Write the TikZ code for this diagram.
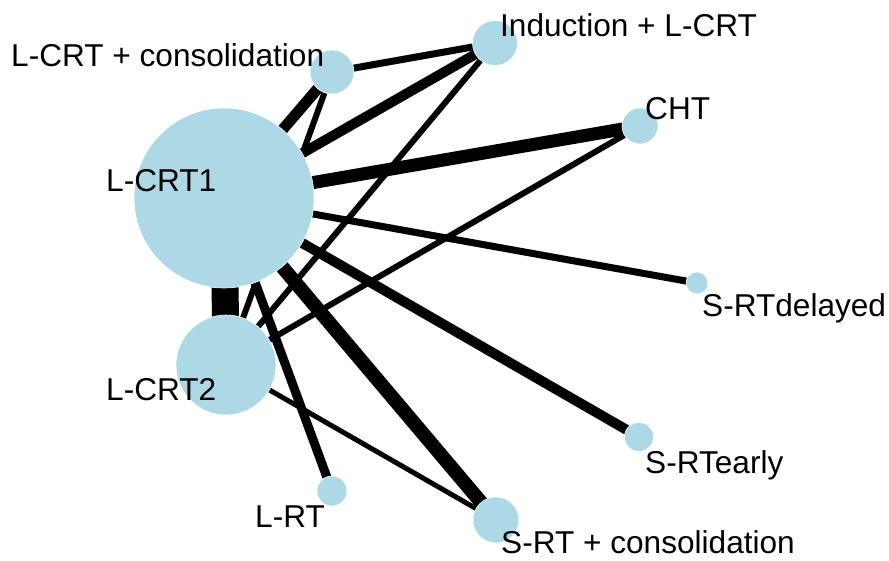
\documentclass[tikz,border=0pt]{standalone}
\usepackage{fontspec}
\setmainfont{Liberation Sans}
\usetikzlibrary{backgrounds}
\definecolor{nodeblue}{HTML}{ADD8E6}
\tikzset{
  trt/.style={circle, fill=nodeblue, draw=white, line width=0.6pt, inner sep=0pt, minimum size=#1},
  lbl/.style={anchor=base west, inner sep=0pt, font=\fontsize{31.6}{38}\selectfont},
  link/.style={line width=#1, draw=black},
}
\begin{document}
\begin{tikzpicture}[x=1pt,y=-1pt]
\useasboundingbox (0,0) rectangle (889,561);

% treatments (circle area ~ number of patients)
\node[trt=180pt] (lcrt1)    at (224,198) {};
\node[trt=100pt] (lcrt2)    at (226,365) {};
\node[trt=44pt]  (lcrtcons) at (332,72)  {};
\node[trt=45pt]  (induc)    at (495,43)  {};
\node[trt=36pt]  (cht)      at (640,126) {};
\node[trt=22pt]  (srtdel)   at (697,283) {};
\node[trt=29pt]  (srtearly) at (639,437) {};
\node[trt=30pt]  (lrt)      at (332,491) {};
\node[trt=46pt]  (srtcons)  at (496,520) {};

% treatment labels
\node[lbl] (t-lcrtcons) at (11,67)   {L-CRT + consolidation};
\node[lbl] (t-induc)    at (500,37)  {Induction + L-CRT};
\node[lbl] (t-cht)      at (645,120) {CHT};
\node[lbl] (t-lcrt1)    at (106,192) {L-CRT1};
\node[lbl] (t-srtdel)   at (702,317) {S-RTdelayed};
\node[lbl] (t-lcrt2)    at (106,400) {L-CRT2};
\node[lbl] (t-srtearly) at (645,473) {S-RTearly};
\node[lbl] (t-lrt)      at (255,527) {L-RT};
\node[lbl] (t-srtcons)  at (501,553) {S-RT + consolidation};

% comparisons (line width ~ number of studies), under the circles
\begin{pgfonlayer}{background}
\draw[link=27pt] (lcrt1.center) -- (lcrt2.center);
\draw[link=11pt] (lcrt1.center) -- (lcrtcons.center);
\draw[link=10pt] (lcrt1.center) -- (induc.center);
\draw[link=13pt] (lcrt1.center) -- (cht.center);
\draw[link=7pt]  (lcrt1.center) -- (srtdel.center);
\draw[link=10pt] (lcrt1.center) -- (srtearly.center);
\draw[link=14pt] (lcrt1.center) -- (srtcons.center);
\draw[link=9pt]  (lcrt1.center) -- (lrt.center);
\draw[link=7pt]  (lcrtcons.center) -- (induc.center);
\draw[link=6pt]  (lcrtcons.center) -- (lcrt2.center);
\draw[link=6pt]  (lcrt2.center) -- (induc.center);
\draw[link=6pt]  (lcrt2.center) -- (cht.center);
\draw[link=5pt]  (lcrt2.center) -- (srtcons.center);
\end{pgfonlayer}
\end{tikzpicture}
\end{document}
